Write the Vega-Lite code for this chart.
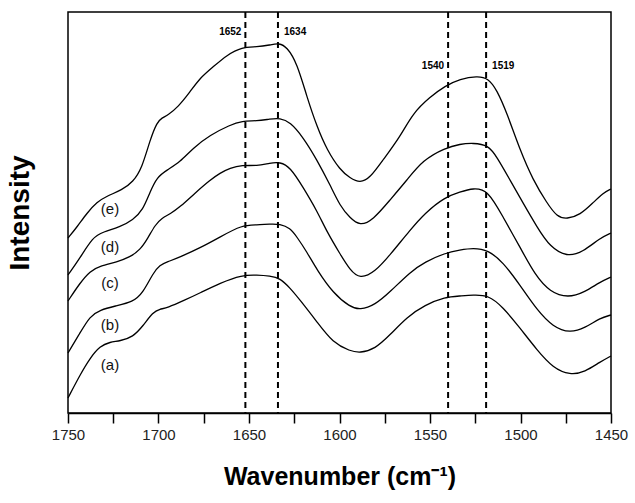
{
  "$schema": "https://vega.github.io/schema/vega-lite/v6.json",
  "autosize": {"type": "none"},
  "width": 543,
  "height": 401,
  "padding": {"left": 68, "top": 12, "right": 24, "bottom": 90},
  "background": "white",
  "config": {
    "view": {"stroke": "black", "strokeWidth": 1.5},
    "font": "Liberation Sans"
  },
  "datasets": {
    "spectra": [
      {"s":"e","wn":1750,"v":175},{"s":"e","wn":1745,"v":186},{"s":"e","wn":1739.5,"v":200},{"s":"e","wn":1734,"v":211},{"s":"e","wn":1728.5,"v":217},{"s":"e","wn":1720.2,"v":223},{"s":"e","wn":1714.1,"v":231},{"s":"e","wn":1709.1,"v":245},{"s":"e","wn":1704.7,"v":273},{"s":"e","wn":1700.8,"v":291},{"s":"e","wn":1698.1,"v":295},{"s":"e","wn":1694.8,"v":298},{"s":"e","wn":1689.2,"v":306},{"s":"e","wn":1682.6,"v":321},{"s":"e","wn":1677.1,"v":335},{"s":"e","wn":1669.9,"v":346},{"s":"e","wn":1662.2,"v":358},{"s":"e","wn":1653.9,"v":366},{"s":"e","wn":1645.6,"v":366},{"s":"e","wn":1638.4,"v":368},{"s":"e","wn":1633.4,"v":370},{"s":"e","wn":1629,"v":366},{"s":"e","wn":1623.5,"v":350},{"s":"e","wn":1618,"v":316},{"s":"e","wn":1612.4,"v":286},{"s":"e","wn":1606.9,"v":263},{"s":"e","wn":1599.7,"v":243},{"s":"e","wn":1594.2,"v":235},{"s":"e","wn":1588.7,"v":230},{"s":"e","wn":1583.1,"v":235},{"s":"e","wn":1576,"v":253},{"s":"e","wn":1566.6,"v":276},{"s":"e","wn":1559.4,"v":300},{"s":"e","wn":1550,"v":316},{"s":"e","wn":1541.7,"v":327},{"s":"e","wn":1533.4,"v":334},{"s":"e","wn":1524,"v":337},{"s":"e","wn":1517.9,"v":335},{"s":"e","wn":1513,"v":323},{"s":"e","wn":1507.5,"v":300},{"s":"e","wn":1500.3,"v":263},{"s":"e","wn":1493.1,"v":233},{"s":"e","wn":1485.4,"v":210},{"s":"e","wn":1479.8,"v":196},{"s":"e","wn":1474.3,"v":194},{"s":"e","wn":1467.1,"v":198},{"s":"e","wn":1460,"v":210},{"s":"e","wn":1454.4,"v":220},{"s":"e","wn":1450,"v":224},
      {"s":"d","wn":1750,"v":138},{"s":"d","wn":1743.4,"v":155},{"s":"d","wn":1736.2,"v":176},{"s":"d","wn":1730.7,"v":181},{"s":"d","wn":1721.3,"v":186},{"s":"d","wn":1714.1,"v":193},{"s":"d","wn":1708.6,"v":203},{"s":"d","wn":1704.7,"v":221},{"s":"d","wn":1700.8,"v":236},{"s":"d","wn":1695.3,"v":243},{"s":"d","wn":1688.1,"v":251},{"s":"d","wn":1680.9,"v":265},{"s":"d","wn":1671.5,"v":278},{"s":"d","wn":1660.5,"v":288},{"s":"d","wn":1653.9,"v":292},{"s":"d","wn":1645.6,"v":292},{"s":"d","wn":1638.4,"v":294},{"s":"d","wn":1632.9,"v":295},{"s":"d","wn":1627.3,"v":291},{"s":"d","wn":1620.2,"v":276},{"s":"d","wn":1612.4,"v":253},{"s":"d","wn":1605.2,"v":228},{"s":"d","wn":1599.7,"v":207},{"s":"d","wn":1594.2,"v":195},{"s":"d","wn":1588.7,"v":187},{"s":"d","wn":1581.5,"v":193},{"s":"d","wn":1572.1,"v":213},{"s":"d","wn":1562.7,"v":233},{"s":"d","wn":1553.9,"v":253},{"s":"d","wn":1541.7,"v":265},{"s":"d","wn":1533.4,"v":269},{"s":"d","wn":1526.2,"v":270},{"s":"d","wn":1517.9,"v":268},{"s":"d","wn":1513,"v":256},{"s":"d","wn":1505.8,"v":233},{"s":"d","wn":1498.6,"v":210},{"s":"d","wn":1490.9,"v":186},{"s":"d","wn":1483.7,"v":166},{"s":"d","wn":1474.3,"v":156},{"s":"d","wn":1465.5,"v":161},{"s":"d","wn":1456.1,"v":175},{"s":"d","wn":1450,"v":180},
      {"s":"c","wn":1750,"v":112},{"s":"c","wn":1743.4,"v":130},{"s":"c","wn":1737.8,"v":142},{"s":"c","wn":1732.3,"v":147},{"s":"c","wn":1722.9,"v":151},{"s":"c","wn":1715.7,"v":156},{"s":"c","wn":1710.2,"v":163},{"s":"c","wn":1705.8,"v":175},{"s":"c","wn":1701.9,"v":188},{"s":"c","wn":1698.1,"v":195},{"s":"c","wn":1693.6,"v":199},{"s":"c","wn":1688.1,"v":206},{"s":"c","wn":1679.8,"v":220},{"s":"c","wn":1671.5,"v":233},{"s":"c","wn":1666,"v":240},{"s":"c","wn":1660.5,"v":245},{"s":"c","wn":1653.9,"v":248},{"s":"c","wn":1645.6,"v":247},{"s":"c","wn":1638.4,"v":250},{"s":"c","wn":1632.9,"v":251},{"s":"c","wn":1627.3,"v":246},{"s":"c","wn":1620.2,"v":226},{"s":"c","wn":1612.4,"v":202},{"s":"c","wn":1606.9,"v":181},{"s":"c","wn":1599.7,"v":159},{"s":"c","wn":1594.2,"v":143},{"s":"c","wn":1588.7,"v":134},{"s":"c","wn":1580.4,"v":141},{"s":"c","wn":1572.1,"v":158},{"s":"c","wn":1561,"v":183},{"s":"c","wn":1552.8,"v":200},{"s":"c","wn":1541.7,"v":216},{"s":"c","wn":1533.4,"v":221},{"s":"c","wn":1526.2,"v":225},{"s":"c","wn":1517.9,"v":223},{"s":"c","wn":1509.7,"v":196},{"s":"c","wn":1500.3,"v":166},{"s":"c","wn":1492,"v":138},{"s":"c","wn":1483.7,"v":121},{"s":"c","wn":1473.7,"v":115},{"s":"c","wn":1464.4,"v":121},{"s":"c","wn":1456.1,"v":131},{"s":"c","wn":1450,"v":136},
      {"s":"b","wn":1750,"v":60},{"s":"b","wn":1743.4,"v":80},{"s":"b","wn":1737.8,"v":97},{"s":"b","wn":1732.3,"v":103},{"s":"b","wn":1724,"v":107},{"s":"b","wn":1714.1,"v":111},{"s":"b","wn":1708.6,"v":120},{"s":"b","wn":1703,"v":140},{"s":"b","wn":1699.2,"v":148},{"s":"b","wn":1695.3,"v":151},{"s":"b","wn":1688.1,"v":156},{"s":"b","wn":1677.1,"v":165},{"s":"b","wn":1666,"v":176},{"s":"b","wn":1653.9,"v":188},{"s":"b","wn":1645.6,"v":188},{"s":"b","wn":1638.4,"v":189},{"s":"b","wn":1632.9,"v":189},{"s":"b","wn":1627.3,"v":185},{"s":"b","wn":1623.5,"v":176},{"s":"b","wn":1618,"v":161},{"s":"b","wn":1612.4,"v":143},{"s":"b","wn":1603.6,"v":120},{"s":"b","wn":1594.2,"v":106},{"s":"b","wn":1588.7,"v":103},{"s":"b","wn":1580.4,"v":108},{"s":"b","wn":1572.1,"v":121},{"s":"b","wn":1561,"v":141},{"s":"b","wn":1552.8,"v":151},{"s":"b","wn":1541.7,"v":160},{"s":"b","wn":1533.4,"v":163},{"s":"b","wn":1526.2,"v":165},{"s":"b","wn":1517.9,"v":163},{"s":"b","wn":1509.7,"v":151},{"s":"b","wn":1500.3,"v":128},{"s":"b","wn":1490.9,"v":103},{"s":"b","wn":1482,"v":86},{"s":"b","wn":1472.6,"v":80},{"s":"b","wn":1464.4,"v":85},{"s":"b","wn":1456.1,"v":95},{"s":"b","wn":1450,"v":98},
      {"s":"a","wn":1750,"v":15},{"s":"a","wn":1743.4,"v":38},{"s":"a","wn":1737.8,"v":55},{"s":"a","wn":1732.3,"v":67},{"s":"a","wn":1726.8,"v":71},{"s":"a","wn":1721.3,"v":72},{"s":"a","wn":1714.1,"v":76},{"s":"a","wn":1708.6,"v":87},{"s":"a","wn":1703,"v":101},{"s":"a","wn":1699.2,"v":104},{"s":"a","wn":1695.3,"v":105},{"s":"a","wn":1685.4,"v":113},{"s":"a","wn":1677.1,"v":120},{"s":"a","wn":1666,"v":130},{"s":"a","wn":1653.9,"v":138},{"s":"a","wn":1645.6,"v":138},{"s":"a","wn":1638.4,"v":137},{"s":"a","wn":1632.9,"v":135},{"s":"a","wn":1627.3,"v":125},{"s":"a","wn":1621.8,"v":113},{"s":"a","wn":1612.4,"v":91},{"s":"a","wn":1603.6,"v":70},{"s":"a","wn":1594.2,"v":62},{"s":"a","wn":1588.7,"v":60},{"s":"a","wn":1580.4,"v":64},{"s":"a","wn":1572.1,"v":78},{"s":"a","wn":1562.7,"v":96},{"s":"a","wn":1552.8,"v":108},{"s":"a","wn":1541.7,"v":116},{"s":"a","wn":1533.4,"v":117},{"s":"a","wn":1526.2,"v":118},{"s":"a","wn":1517.9,"v":118},{"s":"a","wn":1509.7,"v":106},{"s":"a","wn":1500.3,"v":85},{"s":"a","wn":1490.9,"v":63},{"s":"a","wn":1482,"v":45},{"s":"a","wn":1472.6,"v":38},{"s":"a","wn":1464.4,"v":41},{"s":"a","wn":1456.1,"v":51},{"s":"a","wn":1450,"v":57}
    ],
    "peaks": [
      {"wn":1652,"lab":"1652","v":381,"side":"left"},
      {"wn":1634,"lab":"1634","v":381,"side":"right"},
      {"wn":1540,"lab":"1540","v":347,"side":"left"},
      {"wn":1519,"lab":"1519","v":347,"side":"right"}
    ],
    "names": [
      {"wn":1726.8,"v":204,"lab":"(e)"},
      {"wn":1726.8,"v":166,"lab":"(d)"},
      {"wn":1726.8,"v":130,"lab":"(c)"},
      {"wn":1726.8,"v":88,"lab":"(b)"},
      {"wn":1726.8,"v":48,"lab":"(a)"}
    ]
  },
  "layer": [
    {
      "data": {"name": "peaks"},
      "mark": {"type": "rule", "color": "black", "strokeWidth": 2, "strokeDash": [6, 4]},
      "encoding": {
        "x": {"field": "wn", "type": "quantitative", "scale": {"domain": [1450, 1750], "reverse": true, "nice": false, "zero": false}}
      }
    },
    {
      "data": {"name": "spectra"},
      "mark": {"type": "line", "color": "black", "strokeWidth": 1.3, "interpolate": "basis"},
      "encoding": {
        "x": {
          "field": "wn", "type": "quantitative",
          "scale": {"domain": [1450, 1750], "reverse": true, "nice": false, "zero": false},
          "axis": {
            "title": "Wavenumber (cm⁻¹)",
            "values": [1450, 1475, 1500, 1525, 1550, 1575, 1600, 1625, 1650, 1675, 1700, 1725, 1750],
            "labelExpr": "datum.value % 50 === 0 ? datum.label : ''",
            "format": "d",
            "labelOverlap": false,
            "ticks": true,
            "tickSize": 10,
            "tickColor": "black",
            "tickWidth": 1.5,
            "tickOpacity": 1,
            "domainColor": "black",
            "domainWidth": 1.5,
            "grid": false,
            "labelFont": "Liberation Sans",
            "labelFontSize": 15,
            "labelColor": "#222",
            "labelPadding": 4,
            "labelFlush": false,
            "titleFont": "Liberation Sans",
            "titleFontSize": 25,
            "titleFontWeight": "bold",
            "titleColor": "black",
            "titlePadding": 22,
            "encode": {
              "ticks": {
                "update": {
                  "y2": {"signal": "datum.value % 50 === 0 ? 10 : 5"}
                }
              }
            }
          }
        },
        "y": {
          "field": "v", "type": "quantitative",
          "scale": {"domain": [0, 401], "nice": false, "zero": false},
          "axis": {
            "title": "Intensity",
            "labels": false,
            "ticks": false,
            "domain": false,
            "grid": false,
            "titleFont": "Liberation Sans",
            "titleFontSize": 28,
            "titleFontWeight": "bold",
            "titleColor": "black",
            "titlePadding": 34
          }
        },
        "detail": {"field": "s"}
      }
    },
    {
      "data": {"name": "peaks"},
      "transform": [{"filter": "datum.side === 'left'"}],
      "mark": {"type": "text", "align": "right", "baseline": "middle", "dx": -4, "fontSize": 10, "fontWeight": "bold", "font": "Liberation Sans", "color": "black"},
      "encoding": {
        "x": {"field": "wn", "type": "quantitative", "scale": {"domain": [1450, 1750], "reverse": true, "nice": false, "zero": false}},
        "y": {"field": "v", "type": "quantitative", "scale": {"domain": [0, 401], "nice": false, "zero": false}},
        "text": {"field": "lab"}
      }
    },
    {
      "data": {"name": "peaks"},
      "transform": [{"filter": "datum.side === 'right'"}],
      "mark": {"type": "text", "align": "left", "baseline": "middle", "dx": 6, "fontSize": 10, "fontWeight": "bold", "font": "Liberation Sans", "color": "black"},
      "encoding": {
        "x": {"field": "wn", "type": "quantitative", "scale": {"domain": [1450, 1750], "reverse": true, "nice": false, "zero": false}},
        "y": {"field": "v", "type": "quantitative", "scale": {"domain": [0, 401], "nice": false, "zero": false}},
        "text": {"field": "lab"}
      }
    },
    {
      "data": {"name": "names"},
      "mark": {"type": "text", "align": "center", "baseline": "middle", "fontSize": 15, "font": "Liberation Sans", "color": "#111"},
      "encoding": {
        "x": {"field": "wn", "type": "quantitative", "scale": {"domain": [1450, 1750], "reverse": true, "nice": false, "zero": false}},
        "y": {"field": "v", "type": "quantitative", "scale": {"domain": [0, 401], "nice": false, "zero": false}},
        "text": {"field": "lab"}
      }
    }
  ]
}
